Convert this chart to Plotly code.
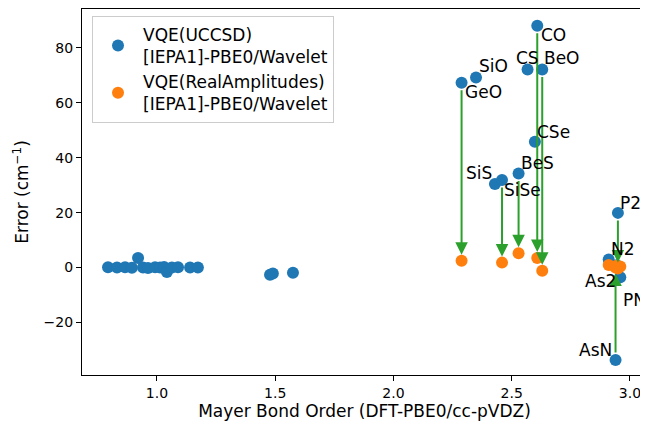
import plotly.graph_objects as go

# Unlabelled molecules (VQE UCCSD only)
small_bond_order = [0.793, 0.831, 0.865, 0.894, 0.920, 0.941, 0.962, 0.992, 1.013,
                    1.030, 1.042, 1.063, 1.089, 1.140, 1.173, 1.478, 1.490, 1.575]
small_err_uccsd = [0.1, 0.0, 0.1, -0.1, 3.5, 0.0, -0.2, 0.1, 0.0,
                   0.2, -1.6, 0.0, 0.1, 0.0, 0.0, -2.6, -2.2, -1.9]

# Labelled molecules
mol_names = ["GeO", "SiO", "SiS", "SiSe", "BeS", "CS", "CSe", "CO", "BeO",
             "P2", "N2", "As2", "PN", "AsN"]
mol_bond_order = [2.288, 2.349, 2.429, 2.459, 2.529, 2.567, 2.598, 2.608, 2.629,
                  2.949, 2.910, 2.959, 2.944, 2.939]
mol_err_uccsd = [67.3, 69.2, 30.4, 31.9, 34.2, 72.1, 45.8, 88.0, 72.1,
                 19.9, 2.9, -3.5, 0.8, -33.6]
mol_err_real = [2.5, None, None, 1.8, 5.2, None, None, 3.5, -1.2,
                -0.3, 0.9, 0.4, 0.7, 0.0]

# label placement (anchor, xshift px, yshift px)
label_pos = {
    "GeO": ("left", 1, -9), "SiO": ("left", 1, 11), "SiS": ("right", -1, 11),
    "SiSe": ("left", 0, -10), "BeS": ("left", 0, 11), "CS": ("center", 0, 11),
    "CSe": ("left", 0, 10), "CO": ("left", 2, -9), "BeO": ("left", 0, 11),
    "P2": ("left", 0, 10), "N2": ("left", 0, 11), "As2": ("right", -2, -4),
    "PN": ("left", 4, -35), "AsN": ("right", -2, 10),
}

BLUE, ORANGE, GREEN = "#1f77b4", "#ff7f0e", "#2ca02c"
FONT = "DejaVu Sans"
LABEL_SIZE = 17

fig = go.Figure()
fig.add_trace(go.Scatter(
    x=small_bond_order + mol_bond_order,
    y=small_err_uccsd + mol_err_uccsd,
    mode="markers", marker=dict(color=BLUE, size=12),
    name="VQE(UCCSD)<br>[IEPA1]-PBE0/Wavelet"))

ra_x = [b for b, r in zip(mol_bond_order, mol_err_real) if r is not None]
ra_y = [r for r in mol_err_real if r is not None]
fig.add_trace(go.Scatter(
    x=ra_x, y=ra_y, mode="markers", marker=dict(color=ORANGE, size=12),
    name="VQE(RealAmplitudes)<br>[IEPA1]-PBE0/Wavelet"))

annotations = []
for b, u, r in zip(mol_bond_order, mol_err_uccsd, mol_err_real):
    if r is None or abs(u - r) < 5:
        continue
    annotations.append(dict(
        x=b, y=r, ax=b, ay=u, xref="x", yref="y", axref="x", ayref="y",
        text="", showarrow=True, arrowhead=2, arrowsize=1.25, arrowwidth=2,
        arrowcolor=GREEN, standoff=6, startstandoff=6))

for n, b, u in zip(mol_names, mol_bond_order, mol_err_uccsd):
    anc, xs, ys = label_pos[n]
    annotations.append(dict(
        x=b, y=u, xref="x", yref="y", text=n, showarrow=False,
        xanchor=anc, yanchor="middle", xshift=xs, yshift=ys,
        font=dict(family=FONT, size=LABEL_SIZE, color="black")))

# the page body adds an 8 px offset, so the figure is 8 px smaller
fig.update_layout(
    width=640, height=420,
    margin=dict(l=74, r=1, t=1, b=53, autoexpand=False),
    paper_bgcolor="white", plot_bgcolor="white",
    font=dict(family=FONT, size=14, color="black"),
    showlegend=True,
    legend=dict(x=0.0177, y=0.981, xanchor="left", yanchor="top",
                bgcolor="rgba(255,255,255,0.8)", bordercolor="#cccccc",
                borderwidth=1, font=dict(family=FONT, size=LABEL_SIZE),
                itemwidth=40),
    annotations=annotations,
    xaxis=dict(range=[0.683, 3.072], tickvals=[1.0, 1.5, 2.0, 2.5, 3.0],
               tickformat=".1f", showline=True, mirror=True, linecolor="black",
               linewidth=1.2, ticks="outside", ticklen=5, tickcolor="black",
               showgrid=False, zeroline=False, automargin=False,
               title=dict(text="Mayer Bond Order (DFT-PBE0/cc-pVDZ)", standoff=4)),
    yaxis=dict(range=[-39.1, 94.1], tickvals=[-20, 0, 20, 40, 60, 80],
               showline=True, mirror=True, linecolor="black", linewidth=1.2,
               ticks="outside", ticklen=5, tickcolor="black",
               showgrid=False, zeroline=False, automargin=False,
               title=dict(text="Error (cm<sup>−1</sup>)", standoff=10)),
)

fig.write_html("out.html")
